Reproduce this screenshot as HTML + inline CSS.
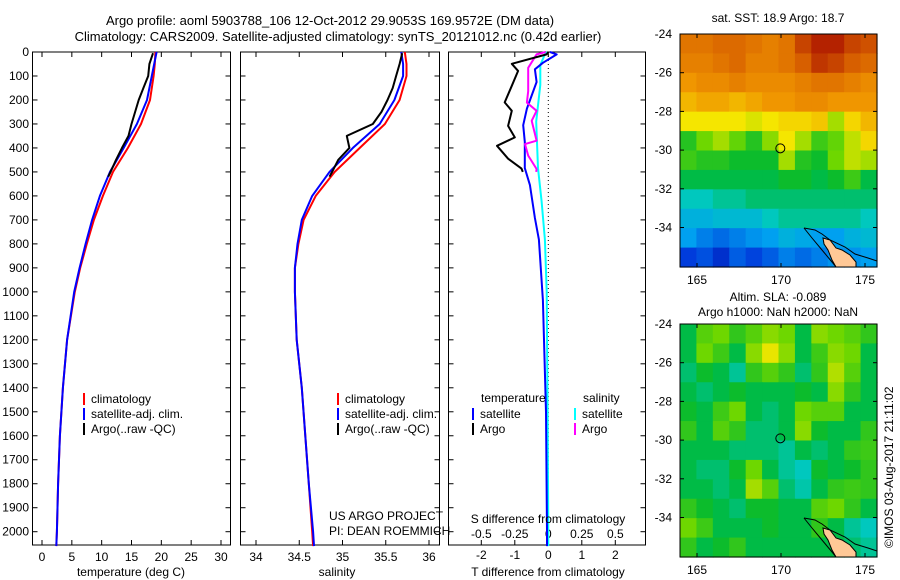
<!DOCTYPE html>
<html><head><meta charset="utf-8"><style>
html,body{margin:0;padding:0;background:#fff;}
svg{display:block;font-family:"Liberation Sans",sans-serif;}
text{font-size:12px;fill:#000;}
</style></head><body>
<svg id="fig" width="900" height="580" viewBox="0 0 900 580" xmlns="http://www.w3.org/2000/svg">
<text x="330" y="25" text-anchor="middle" style="font-size:13px">Argo profile: aoml 5903788_106 12-Oct-2012 29.9053S 169.9572E (DM data)</text>
<text x="338" y="41" text-anchor="middle" style="font-size:13px">Climatology: CARS2009. Satellite-adjusted climatology: synTS_20121012.nc (0.42d earlier)</text>
<g id="p1"></g>
<g id="p2"></g>
<g id="p3"></g>
<g id="m1"></g>
<g id="m2"></g>
<text x="778" y="22" text-anchor="middle">sat. SST: 18.9 Argo: 18.7</text>
<text x="778" y="301" text-anchor="middle">Altim. SLA: -0.089</text>
<text x="778" y="316" text-anchor="middle">Argo h1000: NaN h2000: NaN</text>
<text transform="translate(893,548) rotate(-90)">©IMOS 03-Aug-2017 21:11:02</text>
</svg>
<script>
// ---- data ----
const depthTicks=[0,100,200,300,400,500,600,700,800,900,1000,1100,1200,1300,1400,1500,1600,1700,1800,1900,2000];
const tempTicks=[0,5,10,15,20,25,30];
const salTicks=[34,34.5,35,35.5,36];
const salTickLabels=["34","34.5","35","35.5","36"];
const tdTicks=[-2,-1,0,1,2];
const sdTicks=[-0.5,-0.25,0,0.25,0.5];
const sdTickLabels=["-0.5","-0.25","0","0.25","0.5"];
const climDepth=[0,50,100,200,300,400,500,600,700,800,900,1000,1200,1400,1600,1800,2000,2060];
const climTemp=[19.0,18.9,18.7,18.1,16.6,14.4,11.9,10.2,8.7,7.5,6.4,5.5,4.2,3.5,3.0,2.7,2.5,2.4];
const satTemp=[19.2,18.8,18.4,17.6,15.9,13.7,11.4,9.7,8.4,7.3,6.3,5.4,4.2,3.5,3.0,2.7,2.5,2.4];
const climSal=[35.72,35.74,35.74,35.66,35.49,35.20,34.91,34.69,34.55,34.49,34.45,34.45,34.47,34.53,34.57,34.61,34.65,34.66];
const satSal=[35.68,35.7,35.7,35.6,35.43,35.12,34.85,34.65,34.53,34.48,34.45,34.45,34.47,34.53,34.57,34.61,34.66,34.67];
const argoDepth=[5,50,100,150,200,250,300,350,400,450,500,520];
const argoTemp=[18.6,18.0,17.8,17.0,16.2,15.6,15.0,14.5,13.4,12.4,11.5,11.1];
const argoSal=[35.69,35.66,35.62,35.58,35.52,35.45,35.35,35.05,35.08,34.95,34.88,34.85];
const tdArgoDepth=[0,10,49,79,141,210,245,308,356,391,445,486,500];
const tdArgo=[0,-0.05,-1.09,-0.9,-1.09,-1.3,-1.09,-1.2,-1.0,-1.53,-1.2,-0.8,-0.76];
const tdSatDepth=[0,10,45,72,125,236,305,375,484,554,692,782,1035,1500,2000,2060];
const tdSat=[0.05,0.25,-0.16,-0.4,-0.35,-0.64,-0.75,-0.7,-0.7,-0.55,-0.4,-0.28,-0.16,-0.07,-0.04,-0.04];
const sdSatDepth=[0,10,54,137,290,484,623,782,1000,1500,2000,2060];
const sdSat=[-0.01,-0.025,-0.06,-0.06,-0.09,-0.077,-0.05,-0.025,-0.012,-0.005,0,0];
const sdArgoDepth=[0,10,66,163,211,245,287,370,384,432,488,500];
const sdArgo=[-0.02,-0.087,-0.15,-0.15,-0.16,-0.087,-0.124,-0.087,-0.174,-0.15,-0.087,-0.09];
const sstGrid=[
[0.82,0.82,0.84,0.84,0.82,0.8,0.82,0.9,0.95,0.95,0.9,0.88],
[0.8,0.8,0.82,0.84,0.8,0.8,0.82,0.86,0.92,0.9,0.86,0.84],
[0.76,0.78,0.78,0.8,0.78,0.78,0.78,0.8,0.82,0.82,0.8,0.78],
[0.72,0.74,0.74,0.72,0.74,0.76,0.76,0.78,0.78,0.76,0.76,0.76],
[0.66,0.66,0.66,0.66,0.64,0.66,0.68,0.68,0.7,0.6,0.68,0.72],
[0.5,0.56,0.6,0.55,0.5,0.58,0.66,0.6,0.52,0.55,0.62,0.68],
[0.52,0.5,0.5,0.48,0.48,0.48,0.6,0.5,0.48,0.56,0.62,0.6],
[0.46,0.46,0.46,0.46,0.46,0.46,0.48,0.48,0.46,0.48,0.52,0.46],
[0.4,0.4,0.42,0.42,0.44,0.44,0.44,0.44,0.44,0.44,0.44,0.44],
[0.34,0.34,0.36,0.36,0.36,0.4,0.42,0.42,0.42,0.42,0.42,0.4],
[0.3,0.25,0.22,0.25,0.28,0.3,0.34,0.32,0.3,0.3,0.34,0.36],
[0.15,0.18,0.12,0.2,0.16,0.2,0.25,0.22,0.25,0.28,0.28,0.3]];
const slaGrid=[
[0.46,0.54,0.56,0.51,0.54,0.58,0.56,0.46,0.58,0.56,0.54,0.51],
[0.46,0.56,0.52,0.46,0.58,0.65,0.58,0.46,0.52,0.58,0.56,0.46],
[0.44,0.48,0.46,0.42,0.51,0.54,0.51,0.44,0.51,0.61,0.54,0.46],
[0.46,0.44,0.46,0.48,0.46,0.46,0.46,0.48,0.46,0.58,0.51,0.46],
[0.48,0.46,0.52,0.56,0.46,0.44,0.46,0.56,0.54,0.54,0.46,0.46],
[0.51,0.46,0.54,0.51,0.44,0.44,0.46,0.58,0.48,0.46,0.46,0.51],
[0.46,0.46,0.46,0.44,0.44,0.44,0.42,0.46,0.44,0.46,0.51,0.52],
[0.46,0.44,0.44,0.48,0.56,0.46,0.42,0.4,0.48,0.46,0.48,0.51],
[0.46,0.46,0.44,0.46,0.6,0.54,0.44,0.41,0.46,0.51,0.52,0.51],
[0.51,0.48,0.46,0.44,0.48,0.48,0.46,0.46,0.54,0.56,0.51,0.46],
[0.56,0.52,0.46,0.46,0.46,0.48,0.46,0.46,0.51,0.46,0.42,0.4],
[0.51,0.46,0.48,0.51,0.46,0.46,0.46,0.46,0.46,0.46,0.44,0.42]];
const lonTicks=[165,170,175];
const latTicks=[-24,-26,-28,-30,-32,-34];
const argoLon=169.96, argoLat=-29.91;

// ---- helpers ----
const NS="http://www.w3.org/2000/svg";
function mk(parent,tag,attrs){const e=document.createElementNS(NS,tag);for(const k in attrs)e.setAttribute(k,attrs[k]);parent.appendChild(e);return e;}
function txt(parent,x,y,s,anchor){const t=mk(parent,'text',{x:x,y:y,'text-anchor':anchor||'middle'});t.textContent=s;return t;}
const yD=d=>52+d*(531.7-52)/2000;
const BOT=545;

function frame(g,x0,x1,name){
  const r=mk(g,'rect',{x:x0,y:52,width:x1-x0,height:BOT-52,fill:'none',stroke:'#000','stroke-width':1});
  
  
  depthTicks.forEach(d=>{mk(g,'line',{x1:x0,x2:x0+5,y1:yD(d),y2:yD(d),stroke:'#000'});mk(g,'line',{x1:x1,x2:x1-5,y1:yD(d),y2:yD(d),stroke:'#000'});});
}
function xticks(g,xs,fx,labels,ly,top){
  xs.forEach((v,i)=>{const x=fx(v);mk(g,'line',{x1:x,x2:x,y1:BOT,y2:BOT-5,stroke:'#000'});
    if(top)mk(g,'line',{x1:x,x2:x,y1:52,y2:57,stroke:'#000'});
    if(labels){const t=txt(g,x,ly,labels[i]);}});
}
function line(g,xs,ds,fx,color,name,w){
  const pts=xs.map((v,i)=>fx(v).toFixed(1)+','+yD(ds[i]).toFixed(1)).join(' ');
  const p=mk(g,'polyline',{points:pts,fill:'none',stroke:color,'stroke-width':w||2,'stroke-linejoin':'round'});
  
  
}
function legend(g,x,y,color,label){
  mk(g,'rect',{x:x,y:y-6,width:2,height:12,fill:color});
  const t=txt(g,x+8,y+4,label,'start');
  
  
}

// ---- panel 1 temperature ----
const p1=document.getElementById('p1');
const fT=v=>42+v*(221-42)/30;
frame(p1,32.5,230.5,'temperature');
depthTicks.forEach(d=>{const t=txt(p1,29,yD(d)+4,String(d),'end');});
xticks(p1,tempTicks,fT,tempTicks.map(String),561,true);
line(p1,climTemp,climDepth,fT,'#f00','clim-temperature-line');
line(p1,satTemp,climDepth,fT,'#00f','sat-temperature-line');
line(p1,argoTemp,argoDepth,fT,'#000','argo-temperature-line');
legend(p1,83,399,'#f00','climatology');
legend(p1,83,414,'#00f','satellite-adj. clim.');
legend(p1,83,429,'#000','Argo(..raw -QC)');
txt(p1,131,576,'temperature (deg C)');

// ---- panel 2 salinity ----
const p2=document.getElementById('p2');
const fS=v=>256+(v-34)*(429-256)/2;
frame(p2,240.5,439.5,'salinity');
xticks(p2,salTicks,fS,salTickLabels,561,true);
line(p2,climSal,climDepth,fS,'#f00','clim-salinity-line');
line(p2,satSal,climDepth,fS,'#00f','sat-salinity-line');
line(p2,argoSal,argoDepth,fS,'#000','argo-salinity-line');
legend(p2,337,399,'#f00','climatology');
legend(p2,337,414,'#00f','satellite-adj. clim.');
legend(p2,337,429,'#000','Argo(..raw -QC)');
txt(p2,337,576,'salinity');
txt(p2,329,520,'US ARGO PROJECT','start');
txt(p2,329,535,'PI: DEAN ROEMMICH','start');

// ---- panel 3 differences ----
const p3=document.getElementById('p3');
const fTD=v=>548.3+v*33.5;
const fSD=v=>548.3+v*134;
frame(p3,448.5,645.5,'difference');
xticks(p3,tdTicks,fTD,tdTicks.map(String),559,true);
sdTicks.forEach((v,i)=>{const t=txt(p3,fSD(v),538,sdTickLabels[i]);});
mk(p3,'line',{x1:fTD(0),x2:fTD(0),y1:52,y2:BOT,stroke:'#000','stroke-dasharray':'1,3'});
line(p3,sdSat,sdSatDepth,fSD,'#0ff','sat-salinity-diff-line');
line(p3,tdSat,tdSatDepth,fTD,'#00f','sat-temperature-diff-line');
line(p3,sdArgo,sdArgoDepth,fSD,'#f0f','argo-salinity-diff-line');
line(p3,tdArgo,tdArgoDepth,fTD,'#000','argo-temperature-diff-line');
txt(p3,481,402,'temperature','start');
txt(p3,583,402,'salinity','start');
legend(p3,472,414,'#00f','satellite');
legend(p3,472,429,'#000','Argo');
legend(p3,574,414,'#0ff','satellite');
legend(p3,574,429,'#f0f','Argo');
txt(p3,548,523,'S difference from climatology');
txt(p3,548,576,'T difference from climatology');

// ---- maps ----
const stops=[[0,[0,0,140]],[0.15,[0,60,220]],[0.3,[0,160,240]],[0.4,[0,200,190]],[0.47,[0,185,50]],[0.56,[110,215,0]],[0.66,[245,230,0]],[0.76,[240,150,0]],[0.86,[215,95,0]],[1,[160,0,0]]];
function cmap(v){for(let i=1;i<stops.length;i++){if(v<=stops[i][0]){const a=stops[i-1],b=stops[i];const t=(v-a[0])/(b[0]-a[0]);return 'rgb('+a[1].map((c,k)=>Math.round(c+(b[1][k]-c)*t)).join(',')+')';}}return 'rgb(160,0,0)';}
function drawMap(g,grid,top){
  const L=680,R=877,T=top,B=top+233;
  const fx=lon=>697+(lon-165)*16.8;
  const fy=lat=>T+(-24-lat)*19.35;
  const rows=grid.length,cols=grid[0].length;
  const cw=(R-L)/cols,ch=(B-T)/rows;
  grid.forEach((row,r)=>row.forEach((v,c)=>{
    const cell=mk(g,'rect',{x:(L+c*cw).toFixed(2),y:(T+r*ch).toFixed(2),width:(cw+0.6).toFixed(2),height:(ch+0.6).toFixed(2),fill:cmap(v)});
    
    
  }));
  const o=top;
  mk(g,'polygon',{points:[[823,238],[830,240],[836,248],[842,250],[850,255],[856,262],[856,267],[836,267],[832,260],[828,250],[824,244]].map(p=>p[0]+','+(p[1]-34+o)).join(' '),fill:'#ffc896',stroke:'#000','stroke-width':1});
  mk(g,'polyline',{points:[[804,228],[815,230],[822,234],[830,240],[845,247],[855,254],[868,258],[877,261]].map(p=>p[0]+','+(p[1]-34+o)).join(' '),fill:'none',stroke:'#000','stroke-width':1});
  mk(g,'polyline',{points:[[804,228],[812,238],[822,250],[832,262],[836,267]].map(p=>p[0]+','+(p[1]-34+o)).join(' '),fill:'none',stroke:'#000','stroke-width':1});
  const ring=mk(g,'circle',{cx:fx(argoLon),cy:fy(argoLat),r:4.5,fill:'none',stroke:'#000','stroke-width':1});
  
  
  mk(g,'rect',{x:L,y:T,width:R-L,height:B-T,fill:'none',stroke:'#000'});
  lonTicks.forEach(l=>{const x=fx(l);mk(g,'line',{x1:x,x2:x,y1:T,y2:T+4,stroke:'#000'});mk(g,'line',{x1:x,x2:x,y1:B,y2:B-4,stroke:'#000'});
    const t=txt(g,x,B+17,String(l));});
  latTicks.forEach(l=>{const y=fy(l);mk(g,'line',{x1:L,x2:L+4,y1:y,y2:y,stroke:'#000'});mk(g,'line',{x1:R,x2:R-4,y1:y,y2:y,stroke:'#000'});
    const t=txt(g,672,y+4,String(l),'end');});
}
drawMap(document.getElementById('m1'),sstGrid,34);
drawMap(document.getElementById('m2'),slaGrid,324);
</script>
</body></html>
